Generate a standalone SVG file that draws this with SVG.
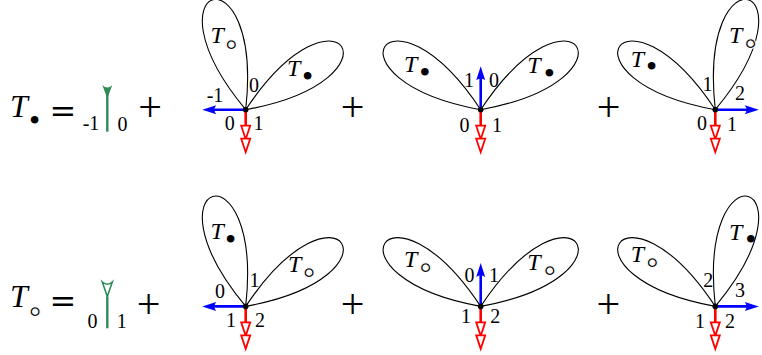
<svg xmlns="http://www.w3.org/2000/svg" xmlns:xlink="http://www.w3.org/1999/xlink" width="762" height="355" viewBox="0 0 762 355">
<style>
.bg{fill:#fff}
.loop{fill:none;stroke:#000;stroke-width:1.1}
.Tm{font-style:italic;font-size:32px;fill:#000}
.Tl{font-style:italic;font-size:24px;fill:#000}
.bul{font-style:normal;dominant-baseline:central;font-size:32px}
.ring{font-style:normal;dominant-baseline:central;font-size:36px;stroke:#fff;stroke-width:1}
.n{font-size:20px;fill:#000;text-anchor:middle}
.op{fill:#000;text-anchor:middle;dominant-baseline:central}
.eq{font-family:"DejaVu Serif",serif;font-size:32px}
.pl{font-size:42px}
.dot{fill:#000}
.gl{stroke:#2e8b57;stroke-width:2.4;fill:none}
</style>
<defs>
<path id="loop" class="loop" d="M0,0 C153,-65 153,65 0,0"/>
<g id="barrow">
<line x1="0" y1="0" x2="33" y2="0" stroke="#0000ff" stroke-width="2.6"/>
<path d="M43.5,0 L29.5,-4.5 Q33,0 29.5,4.5 Z" fill="#0000ff"/>
</g>
<g id="rarrow">
<line x1="0" y1="0" x2="16" y2="0" stroke="#ff0000" stroke-width="2.6"/>
<path d="M16,-4.5 L29.5,0 L16,4.5 Z" fill="#fff" stroke="#ff0000" stroke-width="1.8"/>
<path d="M29,-4.5 L42.5,0 L29,4.5 Z" fill="#fff" stroke="#ff0000" stroke-width="1.8"/>
</g>
</defs>
<rect class="bg" x="0" y="0" width="762" height="355"/>

<g font-family="Liberation Serif, DejaVu Serif, serif">
<g id="row-bullet">
<g id="lhs-bullet">
<text class="Tm" x="10" y="116.7">T<tspan class="bul" dx="1.2" dy="3.3" font-size="40">•</tspan></text>
<text class="op eq" x="62.8" y="110.8">=</text>
</g>
<g id="leaf-bullet">
<line class="gl" x1="107.3" y1="89" x2="107.3" y2="131.7"/>
<path d="M102.3,85 Q107.3,90 112.3,85 L107.3,98.5 Z" fill="#2e8b57"/>
<text class="n" x="91" y="130">-1</text>
<text class="n" x="122.5" y="131">0</text>
</g>
<text class="op pl" x="150" y="107.3">+</text>

<g id="b1">
<use xlink:href="#loop" transform="translate(245.7,109.7) rotate(-106.7)"/>
<use xlink:href="#loop" transform="translate(245.7,109.7) rotate(-33.4)"/>
<use xlink:href="#barrow" transform="translate(245.7,109.7) rotate(180)"/>
<use xlink:href="#rarrow" transform="translate(245.7,109.7) rotate(90)"/>
<circle class="dot" cx="245.7" cy="109.7" r="2.8"/>
<text class="Tl" x="210.5" y="43.3">T<tspan class="ring" dx="-1.4" dy="0.7">∘</tspan></text>
<text class="Tl" x="287" y="76">T<tspan class="bul" dx="1.7" dy="-0.3">•</tspan></text>
<text class="n" x="215" y="101.5">-1</text>
<text class="n" x="254" y="92">0</text>
<text class="n" x="229.7" y="130">0</text>
<text class="n" x="258.5" y="130">1</text>
</g>
<text class="op pl" x="352.5" y="107.1">+</text>

<g id="b2">
<use xlink:href="#loop" transform="translate(480.7,109.7) rotate(-146.6)"/>
<use xlink:href="#loop" transform="translate(480.7,109.7) rotate(-33.4)"/>
<use xlink:href="#barrow" transform="translate(480.7,109.7) rotate(-90)"/>
<use xlink:href="#rarrow" transform="translate(480.7,109.7) rotate(90)"/>
<circle class="dot" cx="480.7" cy="109.7" r="2.8"/>
<text class="Tl" x="404" y="71.7">T<tspan class="bul" dx="2">•</tspan></text>
<text class="Tl" x="527.3" y="73.3">T<tspan class="bul" dx="3">•</tspan></text>
<text class="n" x="469" y="86.7">1</text>
<text class="n" x="494" y="86.7">0</text>
<text class="n" x="464.5" y="131.7">0</text>
<text class="n" x="497" y="131.7">1</text>
</g>
<text class="op pl" x="608.5" y="107.1">+</text>

<g id="b3">
<use xlink:href="#loop" transform="translate(715.3,109.7) rotate(-146.6)"/>
<use xlink:href="#loop" transform="translate(715.3,109.7) rotate(-73.3)"/>
<use xlink:href="#barrow" transform="translate(715.3,109.7)"/>
<use xlink:href="#rarrow" transform="translate(715.3,109.7) rotate(90)"/>
<circle class="dot" cx="715.3" cy="109.7" r="2.8"/>
<text class="Tl" x="630.7" y="66.7">T<tspan class="bul" dx="2" dy="-0.7">•</tspan></text>
<text class="Tl" x="729" y="43.3">T<tspan class="ring" dx="-0.6">∘</tspan></text>
<text class="n" x="707.5" y="90.7">1</text>
<text class="n" x="740" y="100">2</text>
<text class="n" x="702" y="130">0</text>
<text class="n" x="732" y="130.5">1</text>
</g>
</g>

<g id="row-circ">
<g id="lhs-circ">
<text class="Tm" x="10" y="306.7">T<tspan class="ring" dx="-1.6" dy="3.8" font-size="50" stroke-width="1.4">∘</tspan></text>
<text class="op eq" x="62.8" y="300.8">=</text>
</g>
<g id="leaf-circ">
<line class="gl" x1="107.3" y1="296.5" x2="107.3" y2="328.3"/>
<path d="M102.3,282 Q107.3,286.5 112.3,282 L107.3,296.5 Z" fill="#fff" stroke="#2e8b57" stroke-width="1.6"/>
<text class="n" x="92.5" y="328.3">0</text>
<text class="n" x="121.7" y="328">1</text>
</g>
<text class="op pl" x="148.5" y="304.1">+</text>

<g id="c1">
<use xlink:href="#loop" transform="translate(245.7,306.4) rotate(-106.7)"/>
<use xlink:href="#loop" transform="translate(245.7,306.4) rotate(-33.4)"/>
<use xlink:href="#barrow" transform="translate(245.7,306.4) rotate(180)"/>
<use xlink:href="#rarrow" transform="translate(245.7,306.4) rotate(90)"/>
<circle class="dot" cx="245.7" cy="306.4" r="2.8"/>
<text class="Tl" x="210.5" y="239.3">T<tspan class="bul" dx="1.2">•</tspan></text>
<text class="Tl" x="288" y="271.7">T<tspan class="ring" dx="-1.2">∘</tspan></text>
<text class="n" x="220" y="298.3">0</text>
<text class="n" x="254.5" y="286.7">1</text>
<text class="n" x="231" y="326.7">1</text>
<text class="n" x="260" y="326.7">2</text>
</g>
<text class="op pl" x="352.5" y="304.1">+</text>

<g id="c2">
<use xlink:href="#loop" transform="translate(480.7,306.4) rotate(-146.6)"/>
<use xlink:href="#loop" transform="translate(480.7,306.4) rotate(-33.4)"/>
<use xlink:href="#barrow" transform="translate(480.7,306.4) rotate(-90)"/>
<use xlink:href="#rarrow" transform="translate(480.7,306.4) rotate(90)"/>
<circle class="dot" cx="480.7" cy="306.4" r="2.8"/>
<text class="Tl" x="404" y="267.3">T<tspan class="ring" dx="-0.6">∘</tspan></text>
<text class="Tl" x="527.3" y="270">T<tspan class="ring" dx="0.4">∘</tspan></text>
<text class="n" x="469.5" y="281.7">0</text>
<text class="n" x="494" y="281.7">1</text>
<text class="n" x="466" y="323">1</text>
<text class="n" x="495.3" y="323">2</text>
</g>
<text class="op pl" x="608.3" y="304.1">+</text>

<g id="c3">
<use xlink:href="#loop" transform="translate(715.3,306.4) rotate(-146.6)"/>
<use xlink:href="#loop" transform="translate(715.3,306.4) rotate(-73.3)"/>
<use xlink:href="#barrow" transform="translate(715.3,306.4)"/>
<use xlink:href="#rarrow" transform="translate(715.3,306.4) rotate(90)"/>
<circle class="dot" cx="715.3" cy="306.4" r="2.8"/>
<text class="Tl" x="630.7" y="261.7">T<tspan class="ring" dx="-0.6">∘</tspan></text>
<text class="Tl" x="729" y="240">T<tspan class="bul" dx="3" dy="-0.7">•</tspan></text>
<text class="n" x="708.3" y="286.7">2</text>
<text class="n" x="740" y="296.7">3</text>
<text class="n" x="700" y="328.3">1</text>
<text class="n" x="730" y="328.3">2</text>
</g>
</g>
</g>
</svg>
